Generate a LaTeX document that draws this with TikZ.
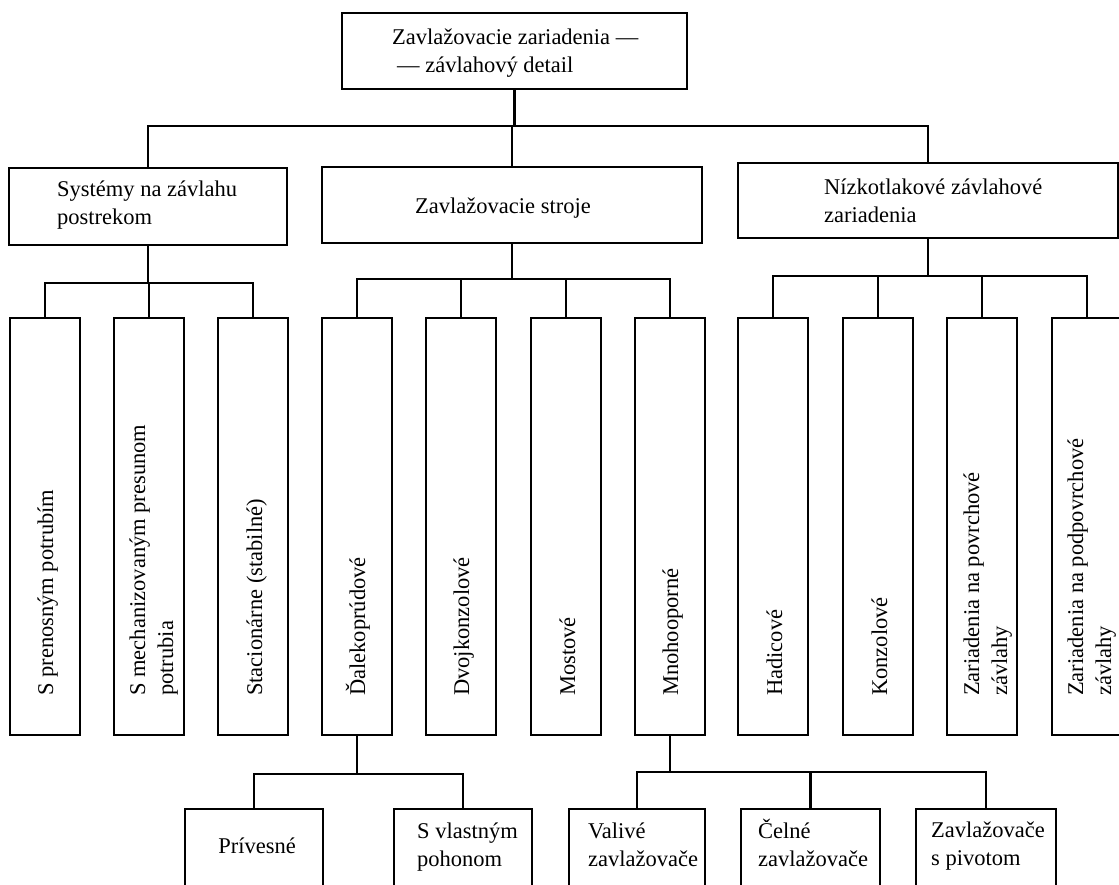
\documentclass[tikz,border=0pt]{standalone}
\usepackage{fontspec}
\setmainfont{Liberation Serif}
\begin{document}
\begin{tikzpicture}[x=1pt,y=-1pt,
  box/.style={draw, line width=2.6pt, rectangle, inner sep=0pt},
  tall/.style={box, minimum width=70, minimum height=417},
  low/.style={box, minimum height=100},
  txt/.style={inner sep=0pt, font=\fontsize{22.5}{28}\selectfont},
  vtxt/.style={txt, rotate=90, anchor=base west},
  conn/.style={line width=2.6pt}]
\useasboundingbox (0,0) rectangle (1119,885);
\clip (0,0) rectangle (1119,885);
\fill[white] (0,0) rectangle (1119,885);

% level 0
\node[box, minimum width=345, minimum height=76] (top) at (514.5,51) {};
\node[txt, anchor=base west] (ttop) at (392,45) {\begin{tabular}[t]{@{}l@{}}Zavlažovacie zariadenia —\\\hspace*{5pt}— závlahový detail\end{tabular}};

% level 1
\node[box, minimum width=278, minimum height=77] (b1) at (148,206.5) {};
\node[box, minimum width=380, minimum height=76] (b2) at (512,205) {};
\node[box, minimum width=380, minimum height=75] (b3) at (928,200.5) {};
\node[txt, anchor=base west] (tb1) at (57,197) {\begin{tabular}[t]{@{}l@{}}Systémy na závlahu\\postrekom\end{tabular}};
\node[txt, anchor=base] (tb2) at (503,214) {Zavlažovacie stroje};
\node[txt, anchor=base west] (tb3) at (824,195) {\begin{tabular}[t]{@{}l@{}}Nízkotlakové závlahové\\zariadenia\end{tabular}};

% level 2
\node[tall] (A) at (45,526.5) {};
\node[tall] (B) at (149,526.5) {};
\node[tall] (C) at (253,526.5) {};
\node[tall] (D) at (357,526.5) {};
\node[tall] (E) at (461,526.5) {};
\node[tall] (F) at (566,526.5) {};
\node[tall] (G) at (670,526.5) {};
\node[tall] (H) at (773,526.5) {};
\node[tall] (I) at (878,526.5) {};
\node[tall] (J) at (982,526.5) {};
\node[tall] (K) at (1087,526.5) {};
\node[vtxt] (tA) at (53,696) {S prenosným potrubím};
\node[vtxt] (tB) at (145,696) {\begin{tabular}[t]{@{}l@{}}S mechanizovaným presunom\\potrubia\end{tabular}};
\node[vtxt] (tC) at (262,696) {Stacionárne (stabilné)};
\node[vtxt] (tD) at (365,696) {Ďalekoprúdové};
\node[vtxt] (tE) at (469,696) {Dvojkonzolové};
\node[vtxt] (tF) at (575,696) {Mostové};
\node[vtxt] (tG) at (678,696) {Mnohooporné};
\node[vtxt] (tH) at (782,696) {Hadicové};
\node[vtxt] (tI) at (887,696) {Konzolové};
\node[vtxt] (tJ) at (979,696) {\begin{tabular}[t]{@{}l@{}}Zariadenia na povrchové\\závlahy\end{tabular}};
\node[vtxt] (tK) at (1083,696) {\begin{tabular}[t]{@{}l@{}}Zariadenia na podpovrchové\\závlahy\end{tabular}};

% level 3
\node[low, minimum width=138] (P1) at (254,859) {};
\node[low, minimum width=138] (P2) at (463,859) {};
\node[low, minimum width=136] (V1) at (637,859) {};
\node[low, minimum width=139] (V2) at (810.5,859) {};
\node[low, minimum width=140] (V3) at (986,859) {};
\node[txt, anchor=base] (tP1) at (257,853) {Prívesné};
\node[txt, anchor=base west] (tP2) at (417,838) {\begin{tabular}[t]{@{}l@{}}S vlastným\\pohonom\end{tabular}};
\node[txt, anchor=base west] (tV1) at (588,838) {\begin{tabular}[t]{@{}l@{}}Valivé\\zavlažovače\end{tabular}};
\node[txt, anchor=base west] (tV2) at (758,838) {\begin{tabular}[t]{@{}l@{}}Čelné\\zavlažovače\end{tabular}};
\node[txt, anchor=base west] (tV3) at (931,837) {\begin{tabular}[t]{@{}l@{}}Zavlažovače\\s pivotom\end{tabular}};

% junctions
\coordinate (j0) at (514.5,126);
\coordinate (j1) at (148,283);
\coordinate (j2) at (512,279);
\coordinate (j3) at (928,276);
\coordinate (j4) at (357,774);
\coordinate (j5) at (670,772);

% connectors
\draw[conn] (top.south) -- (j0);
\draw[conn] (b1.north) |- (j0) -| (b3.north);
\draw[conn] (b2.north) -- (b2.north |- j0);

\draw[conn] (b1.south) -- (j1);
\draw[conn] (A.north) |- (j1) -| (C.north);
\draw[conn] (B.north) -- (B.north |- j1);

\draw[conn] (b2.south) -- (j2);
\draw[conn] (D.north) |- (j2) -| (G.north);
\draw[conn] (E.north) -- (E.north |- j2);
\draw[conn] (F.north) -- (F.north |- j2);

\draw[conn] (b3.south) -- (j3);
\draw[conn] (H.north) |- (j3) -| (K.north);
\draw[conn] (I.north) -- (I.north |- j3);
\draw[conn] (J.north) -- (J.north |- j3);

\draw[conn] (D.south) -- (j4);
\draw[conn] (P1.north) |- (j4) -| (P2.north);

\draw[conn] (G.south) -- (j5);
\draw[conn] (V1.north) |- (j5) -| (V3.north);
\draw[conn] (V2.north) -- (V2.north |- j5);
\end{tikzpicture}
\end{document}
